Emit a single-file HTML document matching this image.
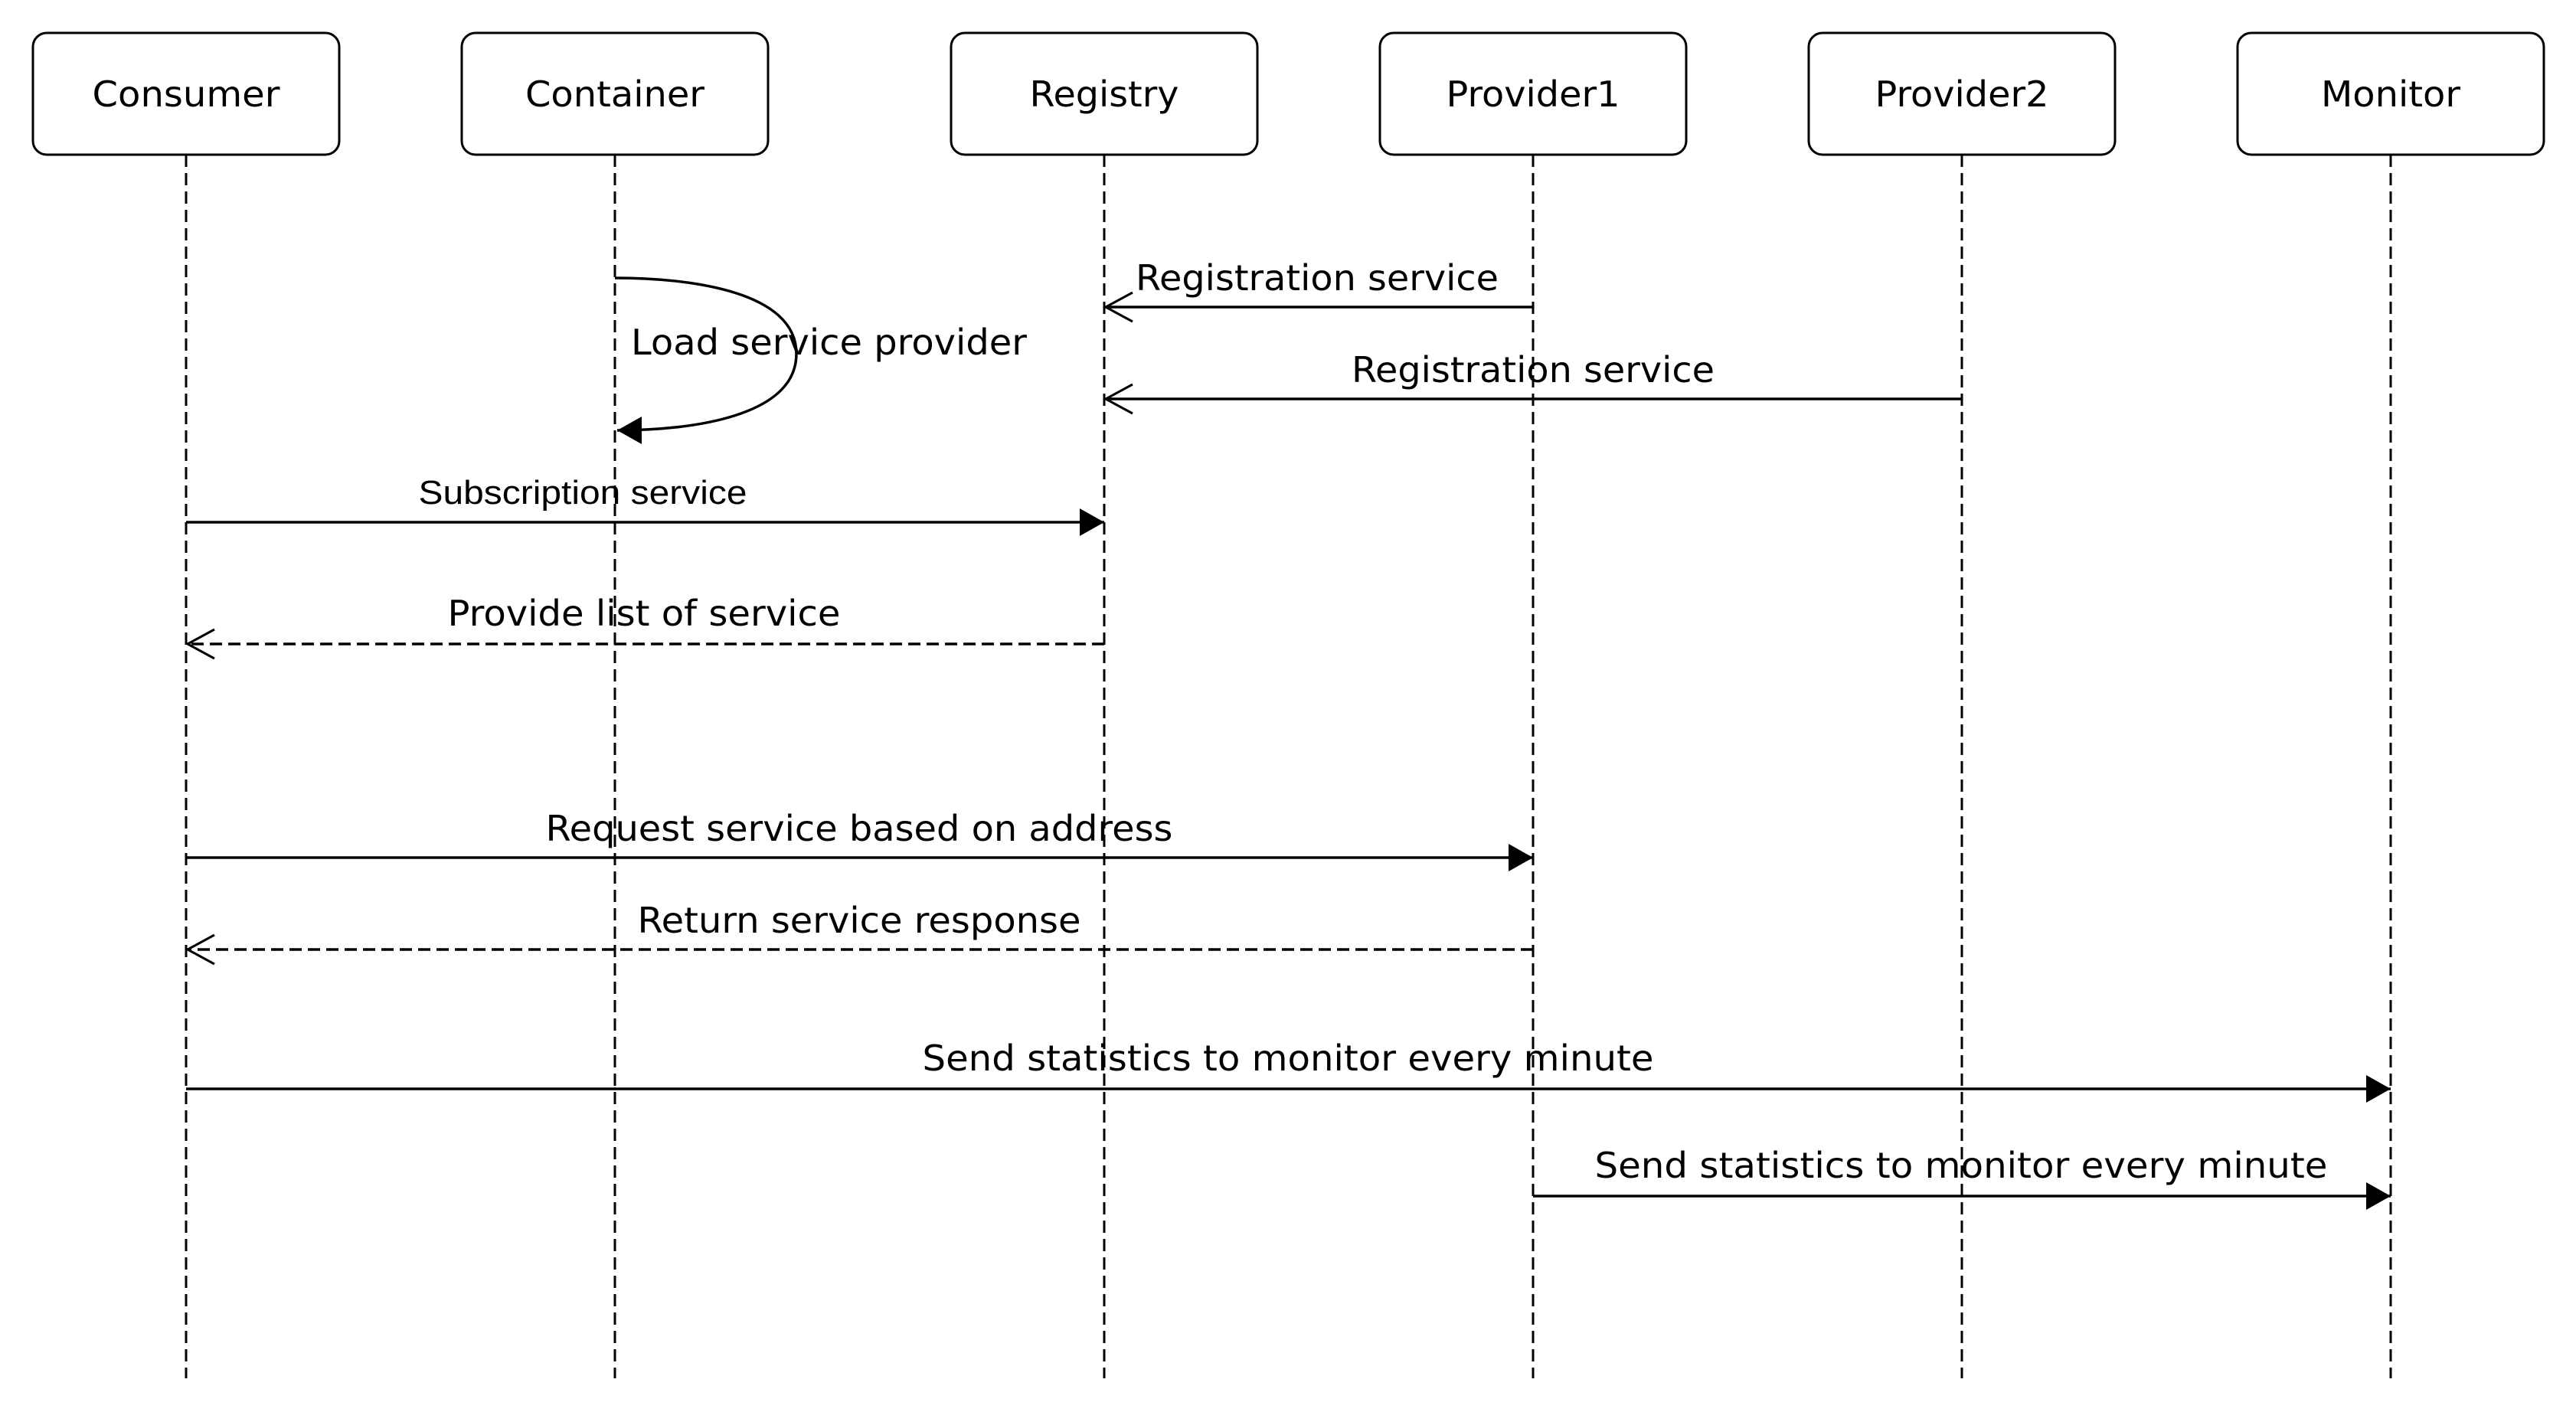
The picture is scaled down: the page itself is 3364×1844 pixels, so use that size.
<!DOCTYPE html>
<html><head><meta charset="utf-8"><style>html,body{margin:0;padding:0;background:#fff}svg{display:block}</style></head>
<body>
<svg xmlns="http://www.w3.org/2000/svg" width="3364" height="1844" viewBox="0 0 3364 1844">
<defs>
<marker id="fill" markerWidth="34" markerHeight="40" refX="32" refY="20" orient="auto" markerUnits="userSpaceOnUse"><path d="M0,2 L32,20 L0,38 z" fill="#000"/></marker>
<marker id="open" markerWidth="40" markerHeight="50" refX="37" refY="25" orient="auto" markerUnits="userSpaceOnUse"><path d="M2,6 L37,25 L2,44" fill="none" stroke="#000" stroke-width="3"/></marker>
</defs>
<g fill="#fff" stroke="#000" stroke-width="3">
<rect x="43" y="43" width="400" height="159" rx="18"/>
<rect x="603" y="43" width="400" height="159" rx="18"/>
<rect x="1242" y="43" width="400" height="159" rx="18"/>
<rect x="1802" y="43" width="400" height="159" rx="18"/>
<rect x="2362" y="43" width="400" height="159" rx="18"/>
<rect x="2922" y="43" width="400" height="159" rx="18"/>
</g>
<g stroke="#000" stroke-width="3" stroke-dasharray="16 8">
<line x1="243" y1="202" x2="243" y2="1800"/>
<line x1="803" y1="202" x2="803" y2="1800"/>
<line x1="1442" y1="202" x2="1442" y2="1800"/>
<line x1="2002" y1="202" x2="2002" y2="1800"/>
<line x1="2562" y1="202" x2="2562" y2="1800"/>
<line x1="3122" y1="202" x2="3122" y2="1800"/>
</g>
<g font-family="DejaVu Sans, sans-serif" font-size="46" text-anchor="middle" fill="#000">
<text x="243" y="139" textLength="245" lengthAdjust="spacingAndGlyphs">Consumer</text>
<text x="803" y="139" textLength="234" lengthAdjust="spacingAndGlyphs">Container</text>
<text x="1442" y="139" textLength="195" lengthAdjust="spacingAndGlyphs">Registry</text>
<text x="2002" y="139" textLength="227" lengthAdjust="spacingAndGlyphs">Provider1</text>
<text x="2562" y="139" textLength="227" lengthAdjust="spacingAndGlyphs">Provider2</text>
<text x="3122" y="139" textLength="182" lengthAdjust="spacingAndGlyphs">Monitor</text>
</g>
<g stroke="#000" stroke-width="3.5" fill="none">
<path d="M803,363 C900,363 1040,380 1040,462 C1040,545 900,562 806,562" marker-end="url(#fill)"/>
<line x1="2002" y1="401" x2="1444" y2="401" marker-end="url(#open)"/>
<line x1="2562" y1="521" x2="1444" y2="521" marker-end="url(#open)"/>
<line x1="243" y1="682" x2="1442" y2="682" marker-end="url(#fill)"/>
<line x1="1442" y1="841" x2="245" y2="841" stroke-dasharray="16 8" marker-end="url(#open)"/>
<line x1="243" y1="1120" x2="2002" y2="1120" marker-end="url(#fill)"/>
<line x1="2002" y1="1240" x2="245" y2="1240" stroke-dasharray="16 8" marker-end="url(#open)"/>
<line x1="243" y1="1422" x2="3122" y2="1422" marker-end="url(#fill)"/>
<line x1="2002" y1="1562" x2="3122" y2="1562" marker-end="url(#fill)"/>
</g>
<g font-family="DejaVu Sans, sans-serif" font-size="46" fill="#000">
<text x="824" y="463" textLength="517" lengthAdjust="spacingAndGlyphs">Load service provider</text>
<g text-anchor="middle">
<text x="1720" y="379" textLength="474" lengthAdjust="spacingAndGlyphs">Registration service</text>
<text x="2002" y="499" textLength="474" lengthAdjust="spacingAndGlyphs">Registration service</text>
<text x="841" y="817" textLength="513" lengthAdjust="spacingAndGlyphs">Provide list of service</text>
<text x="1122" y="1098" textLength="819" lengthAdjust="spacingAndGlyphs">Request service based on address</text>
<text x="1122" y="1218" textLength="579" lengthAdjust="spacingAndGlyphs">Return service response</text>
<text x="1682" y="1398" textLength="955" lengthAdjust="spacingAndGlyphs">Send statistics to monitor every minute</text>
<text x="2561" y="1538" textLength="957" lengthAdjust="spacingAndGlyphs">Send statistics to monitor every minute</text>
</g>
<text x="761" y="658" text-anchor="middle" font-family="Liberation Sans, Arial, sans-serif" font-size="44" textLength="429" lengthAdjust="spacingAndGlyphs">Subscription service</text>
</g>
</svg>
</body></html>
